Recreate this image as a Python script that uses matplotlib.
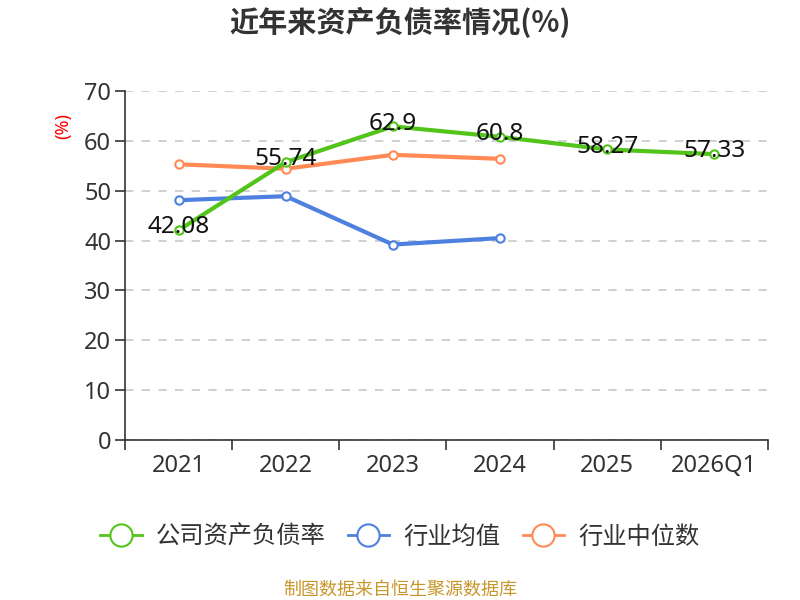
import numpy as np
import matplotlib.pyplot as plt
from matplotlib.lines import Line2D

plt.rcParams['font.family'] = ['Noto Sans CJK SC', 'DejaVu Sans']

# data
years = ['2021', '2022', '2023', '2024', '2025', '2026Q1']
company = [42.08, 55.74, 62.9, 60.8, 58.27, 57.33]
ind_avg = [48.1, 48.9, 39.2, 40.5]
ind_median = [55.3, 54.4, 57.2, 56.4]
company_labels = ['42.08', '55.74', '62.9', '60.8', '58.27', '57.33']

green = '#52c41a'
blue = '#4e80e0'
orange = '#ff8a55'

fig = plt.figure(figsize=(8, 6), dpi=100)
ax = fig.add_axes([125/800, 1-440/600, (768-125)/800, (440-91)/600])

x = np.arange(len(years))
xa = np.arange(len(ind_avg))

ax.plot(xa, ind_median, color=orange, lw=3, marker='o', ms=6,
        mfc='white', mec=orange, mew=1.5, zorder=3)
ax.plot(xa, ind_avg, color=blue, lw=3, marker='o', ms=6,
        mfc='white', mec=blue, mew=1.5, zorder=3)
ax.plot(x, company, color=green, lw=3, marker='o', ms=6,
        mfc='white', mec=green, mew=1.5, zorder=4)

for xi, v, t in zip(x, company, company_labels):
    ax.annotate(t, (xi, v), xytext=(0, 2), textcoords='offset points',
                ha='center', va='center', fontsize=17.5, color='#111111',
                family=['Noto Sans', 'DejaVu Sans'], zorder=5)

ax.set_xlim(-0.5, len(years) - 0.5)
ax.set_ylim(0, 70)
ax.set_yticks(range(0, 71, 10))
ax.set_xticks(x)
ax.set_xticklabels(years)
ax.set_xticks(np.arange(-0.5, len(years), 1), minor=True)
ax.tick_params(axis='x', which='major', length=0, pad=10, labelsize=17, labelcolor='#333333')
ax.tick_params(axis='x', which='minor', length=7, width=1.2, color='#333333')
ax.tick_params(axis='y', length=7, width=1.2, color='#333333', pad=3,
               labelsize=17, labelcolor='#333333')
for lab in ax.get_xticklabels() + ax.get_yticklabels():
    lab.set_family(['Noto Sans', 'DejaVu Sans'])

ax.grid(axis='y', color='#c8c8c8', ls=(0, (5, 5)), lw=1.2)
ax.set_axisbelow(True)
for s in ['top', 'right']:
    ax.spines[s].set_visible(False)
ax.spines['left'].set_color('#333333')
ax.spines['bottom'].set_color('#333333')
ax.spines['left'].set_linewidth(1.2)
ax.spines['bottom'].set_linewidth(1.2)

fig.text(63/800, 1-126/600, '(%)', color='red', rotation=90, fontsize=13,
         ha='center', va='center', family=['Noto Sans', 'DejaVu Sans'])

fig.text(0.5, 1-22/600, '近年来资产负债率情况(%)', fontsize=21, fontweight='bold',
         color='#333333', ha='center', va='center')

handles = [
    Line2D([0], [0], color=green, lw=2, marker='o', ms=16, mfc='white', mec=green, mew=1.5),
    Line2D([0], [0], color=blue, lw=2, marker='o', ms=16, mfc='white', mec=blue, mew=1.5),
    Line2D([0], [0], color=orange, lw=2, marker='o', ms=16, mfc='white', mec=orange, mew=1.5),
]
fig.legend(handles, ['公司资产负债率', '行业均值', '行业中位数'], loc='center',
           bbox_to_anchor=(0.5, 1-537/600), ncol=3, frameon=False, fontsize=17.5,
           handlelength=1.7, columnspacing=0.9, handletextpad=0.6, labelcolor='#333333')

fig.text(0.5, 1-590/600, '制图数据来自恒生聚源数据库', fontsize=13, color='#c8962a',
         ha='center', va='center')

fig.savefig('out.png', dpi=100)
